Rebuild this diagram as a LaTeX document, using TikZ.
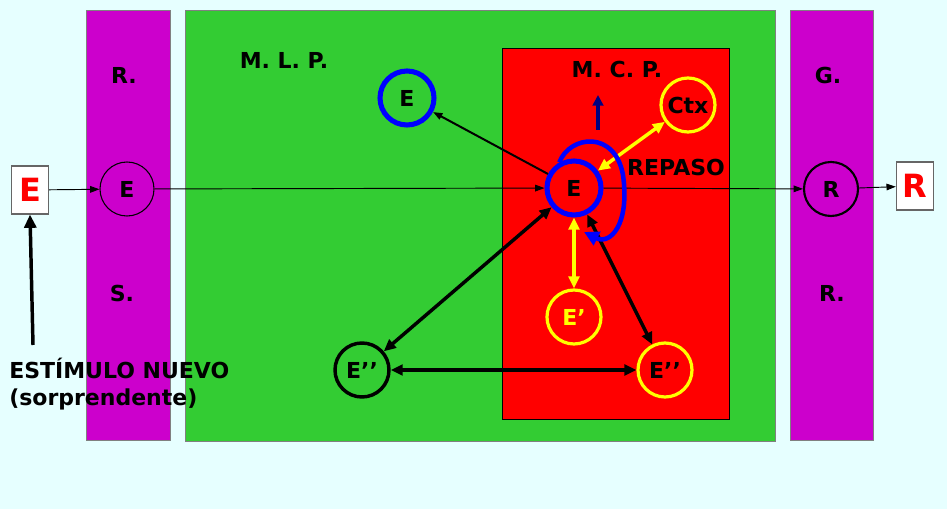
\documentclass[tikz,border=0pt]{standalone}
\usepackage{fontspec}
\setmainfont{DejaVu Sans}
\usetikzlibrary{arrows.meta}
\definecolor{bgc}{HTML}{E6FFFF}
\definecolor{purp}{HTML}{CC00CC}
\definecolor{grn}{HTML}{33CC33}
\definecolor{rd}{HTML}{FF0000}
\definecolor{yel}{HTML}{FFFF00}
\definecolor{blu}{HTML}{0000FF}
\definecolor{navy}{HTML}{000080}
\tikzset{
  lbl/.style={font=\bfseries\fontsize{16.5}{20}\selectfont, inner sep=0pt},
  circ/.style={circle, minimum size=40.5pt, inner sep=0pt, font=\bfseries\fontsize{16.5}{18}\selectfont},
  thincirc/.style={circ, draw=black, line width=0.8pt},
  bluecirc/.style={circ, draw=blu, line width=3.8pt},
  yelcirc/.style={circ, draw=yel, line width=2.4pt},
  blkcirc/.style={circ, draw=black, line width=2.6pt},
  iobox/.style={draw=black!60, fill=white, line width=0.8pt, minimum width=28pt, minimum height=36pt, inner sep=0pt, text=rd, font=\bfseries\fontsize{24}{26}\selectfont},
  thinarr/.style={-{Triangle[length=7pt,width=5pt]}, line width=0.7pt},
  dblarr/.style={{Triangle[length=9pt,width=8pt]}-{Triangle[length=9pt,width=8pt]}, line width=2.6pt},
  yelarr/.style={dblarr, draw=yel},
}
\begin{document}
\begin{tikzpicture}[x=0.75pt,y=-0.75pt]
\fill[bgc] (0,0) rectangle (947,509);
\useasboundingbox (0,0) rectangle (947,509);
% panels
\filldraw[fill=purp, draw=black!50, line width=0.5pt] (86,10) rectangle (170,440);
\filldraw[fill=grn, draw=black!50, line width=0.5pt] (185,10) rectangle (775,441);
\filldraw[fill=rd, draw=black, line width=0.6pt] (502,48) rectangle (729,419);
\filldraw[fill=purp, draw=black!50, line width=0.5pt] (790,10) rectangle (873,440);
% labels
\node[lbl] (rl) at (124,75) {R.};
\node[lbl] (sl) at (122,293) {S.};
\node[lbl] (gl) at (828,75) {G.};
\node[lbl] (rr) at (832,293) {R.};
\node[lbl] (mlp) at (284,60) {M. L. P.};
\node[lbl] (mcp) at (617,69) {M. C. P.};
\node[lbl] (rep) at (676,167) {REPASO};
\node[lbl, align=left, anchor=west] (est) at (9,384) {ESTÍMULO NUEVO\\(sorprendente)};
% nodes
\node[iobox] (ein) at (30,190) {E};
\node[iobox] (rout) at (915,186) {R};
\node[thincirc] (es) at (127,189) {E};
\node[thincirc, line width=1.6pt] (rg) at (831,189) {R};
\node[bluecirc] (em) at (574,188) {E};
\node[bluecirc] (el) at (407,98) {E};
\node[yelcirc] (ctx) at (688,105) {Ctx};
\node[yelcirc, text=yel] (ep) at (574,317) {E’};
\node[yelcirc] (epy) at (665,370) {E’’};
\node[blkcirc] (epb) at (362,370) {E’’};
\coordinate (up1) at (598,130);
\coordinate (up2) at (598,95);
\coordinate (stim) at (33,345);
% connectors
\draw[thinarr] (ein) -- (es);
\draw[thinarr] (es) -- (em);
\draw[thinarr] (em) -- (rg);
\draw[thinarr] (rg) -- (rout);
\draw[-{Triangle[length=10pt,width=9pt]}, line width=2.6pt] (stim) -- (ein.south);
\draw[thinarr, line width=1.5pt] (em) -- (el);
\draw[yelarr] (em) -- (ctx);
\draw[yelarr] (em) -- (ep);
\draw[dblarr] (em) -- (epb);
\draw[dblarr] (em) -- (epy);
\draw[dblarr] (epb) -- (epy);
\draw[-{Triangle[length=8pt,width=8pt]}, draw=navy, line width=2.6pt] (up1) -- (up2);
\draw[-{Triangle[length=11pt,width=11pt]}, draw=blu, line width=3.4pt]
  (em.120) .. controls (570,135) and (615,130) .. (623,175)
  .. controls (630,225) and (610,245) .. (584,232);
\end{tikzpicture}
\end{document}
